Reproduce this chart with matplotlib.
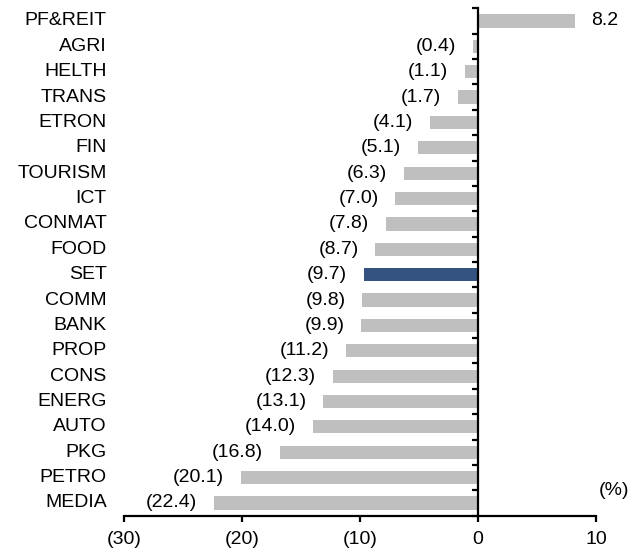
import matplotlib
matplotlib.use("Agg")
import matplotlib.pyplot as plt
import numpy as np

plt.rcParams['font.family'] = ['Liberation Sans', 'DejaVu Sans']

# data, top to bottom as in the chart
sectors = ['PF&REIT', 'AGRI', 'HELTH', 'TRANS', 'ETRON', 'FIN', 'TOURISM', 'ICT',
           'CONMAT', 'FOOD', 'SET', 'COMM', 'BANK', 'PROP', 'CONS', 'ENERG',
           'AUTO', 'PKG', 'PETRO', 'MEDIA']
returns = [8.2, -0.4, -1.1, -1.7, -4.1, -5.1, -6.3, -7.0,
           -7.8, -8.7, -9.7, -9.8, -9.9, -11.2, -12.3, -13.1,
           -14.0, -16.8, -20.1, -22.4]
highlight = 'SET'
x_ticks = [-30, -20, -10, 0, 10]
x_ticklabels = ['(30)', '(20)', '(10)', '0', '10']

grey = '#BFBFBF'
blue = '#345381'
fs = 14

fig = plt.figure(figsize=(6.43, 5.53), dpi=100)
ax = fig.add_axes([0.1928, 0.0675, 0.7341, 0.9175])

n = len(sectors)
ypos = np.arange(n)[::-1]  # first sector on top
colors = [blue if s == highlight else grey for s in sectors]
ax.barh(ypos, returns, height=0.52, color=colors, zorder=2)

ax.set_xlim(-30, 10)
ax.set_ylim(-0.5, n - 0.5)

# value labels
for y, v in zip(ypos, returns):
    if v < 0:
        txt = '(%.1f)' % abs(v)
        ax.annotate(txt, (v, y), xytext=(-12, 0), textcoords='offset points',
                    ha='right', va='center', fontsize=fs)
    else:
        ax.annotate('%.1f' % v, (v, y), xytext=(11.5, 0), textcoords='offset points',
                    ha='left', va='center', fontsize=fs)

# sector names on the left
tr = ax.get_yaxis_transform()
for y, s in zip(ypos, sectors):
    ax.text(-0.0367, y, s, transform=tr, ha='right', va='center', fontsize=fs)

# axes styling
for side in ['top', 'right']:
    ax.spines[side].set_visible(False)
ax.spines['left'].set_position(('data', 0))
ax.spines['left'].set_linewidth(1.6)
ax.spines['bottom'].set_linewidth(1.6)

ax.set_yticks(np.arange(n + 1) - 0.5)
ax.set_yticklabels([])
ax.tick_params(axis='y', direction='out', length=4, width=1.6)

ax.set_xticks(x_ticks)
ax.set_xticklabels(x_ticklabels, fontsize=fs)
ax.tick_params(axis='x', direction='out', length=4, width=1.6, pad=7)

ax.text(1.038, 0.05, '(%)', transform=ax.transAxes, ha='center', va='center', fontsize=fs)

fig.savefig('out.png', dpi=100)
